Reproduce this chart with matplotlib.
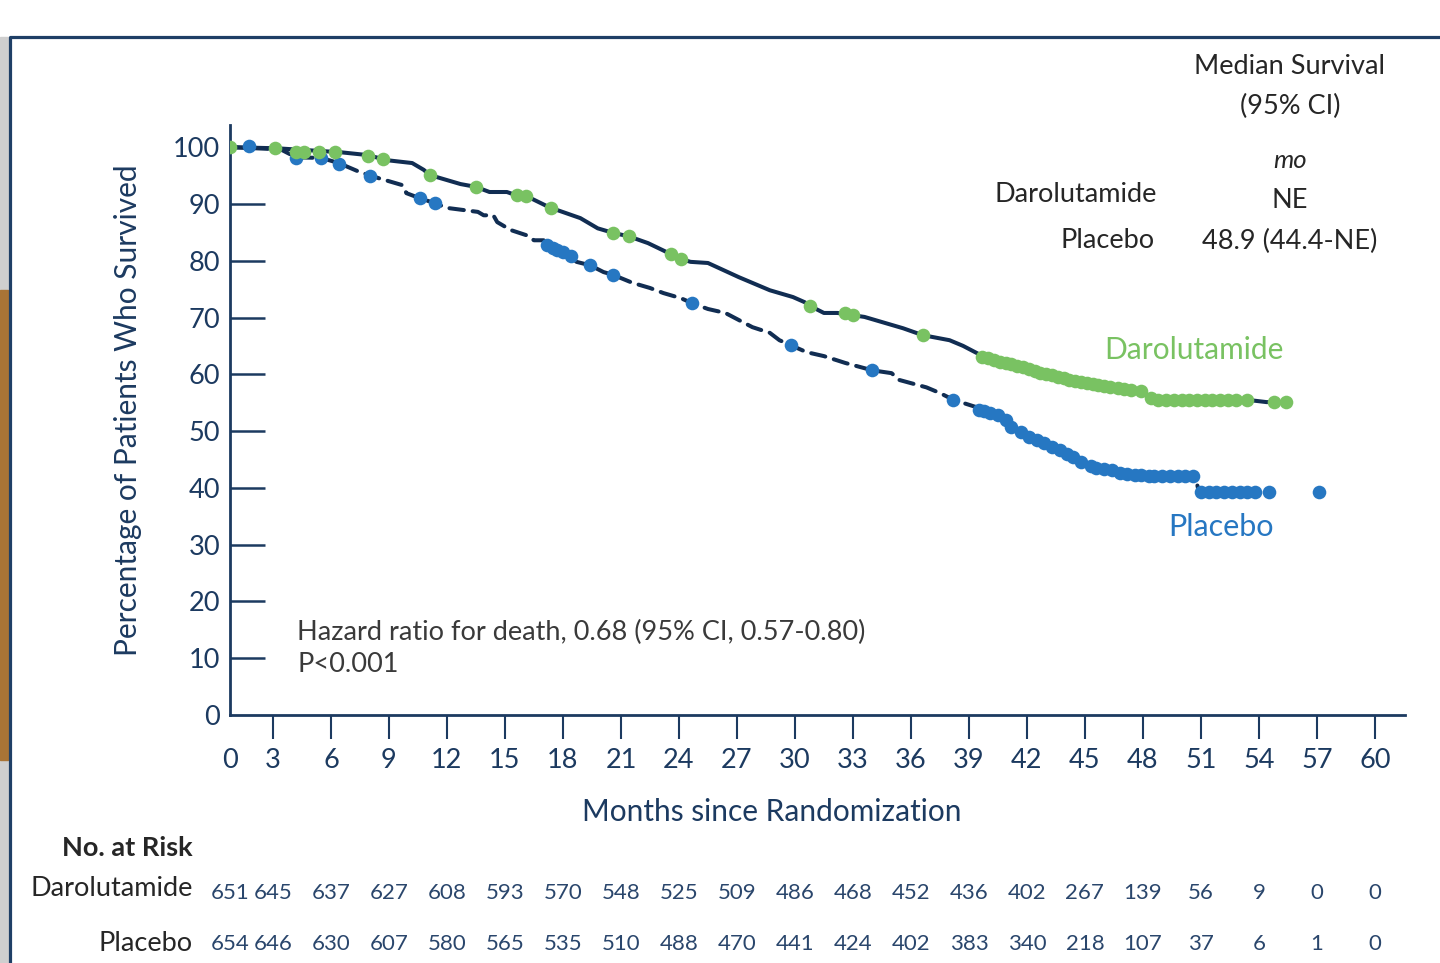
import numpy as np
import matplotlib
matplotlib.use('Agg')
import matplotlib.pyplot as plt
from matplotlib.patches import Rectangle
from matplotlib.lines import Line2D
from matplotlib import transforms

plt.rcParams['font.family'] = ['Lato', 'DejaVu Sans']

# Kaplan-Meier curves (months, % surviving)
dar_m = [0, 3.2, 6.5, 7.9, 8.9, 10.2, 10.8, 11.1, 12.7, 13.5, 14.2, 15.1, 15.6, 16.1,
         17.3, 18.9, 19.8, 20.6, 21.4, 22.4, 23.5, 24.1, 24.6, 25.5, 27.1, 28.7, 29.9,
         30.5, 30.8, 31.5, 32.2, 33.0, 33.6, 34.5, 35.6, 36.6, 38.0, 38.7, 39.6, 39.7,
         42.1, 44.5, 46.3, 48.0, 48.4, 49.3, 53.4, 54.4, 55.3]
dar_p = [100.0, 99.8, 99.1, 98.6, 97.7, 97.2, 96.0, 95.1, 93.5, 93.0, 92.1, 92.1, 91.5, 91.4,
         89.4, 87.5, 85.7, 84.9, 84.3, 83.1, 81.3, 80.3, 79.8, 79.6, 77.1, 74.8, 73.6,
         72.7, 72.0, 70.8, 70.8, 70.4, 70.1, 69.2, 68.1, 66.9, 66.0, 65.0, 63.4, 63.0,
         60.9, 58.9, 57.8, 56.9, 55.8, 55.5, 55.5, 55.1, 55.1]

pla_m = [0, 3.4, 4.2, 5.5, 6.4, 7.5, 8.5, 9.7, 9.9, 10.6, 11.4, 12.0, 13.6, 13.9, 14.4,
         14.6, 15.3, 16.1, 16.5, 17.0, 17.2, 18.4, 18.7, 19.4, 20.1, 20.6, 21.6, 22.5,
         23.2, 24.1, 24.7, 25.5, 26.4, 27.8, 28.7, 29.2, 29.8, 30.6, 31.5, 32.6, 34.0,
         35.0, 35.4, 36.8, 37.5, 38.2, 39.4, 39.5, 40.5, 41.2, 42.1, 43.3, 44.4, 45.6,
         46.8, 47.9, 50.7, 50.9, 53.8]
pla_p = [100.0, 99.6, 98.2, 98.1, 97.2, 95.6, 94.5, 93.3, 91.9, 91.0, 90.1, 89.3, 88.6, 88.0, 88.0,
         86.8, 85.4, 84.5, 83.6, 83.6, 82.7, 80.8, 79.8, 79.2, 78.0, 77.5, 76.1, 75.2,
         74.3, 73.4, 72.5, 71.5, 70.8, 68.3, 67.3, 66.0, 65.1, 63.9, 63.2, 62.0, 60.7,
         60.2, 59.0, 57.7, 56.7, 55.5, 54.2, 53.7, 52.8, 50.7, 48.9, 47.2, 45.4, 43.5,
         42.6, 42.3, 42.1, 39.3, 39.3]

# censoring marks
dar_cens_m = [0, 3.1, 4.2, 4.6, 5.4, 6.2, 7.9, 8.7, 11.1, 13.5, 15.6, 16.1, 17.4, 20.6, 21.4,
              23.6, 24.1, 30.8, 32.6, 33.0, 36.6, 39.7, 40.0, 40.3, 40.6, 40.9, 41.2, 41.5,
              41.8, 42.1, 42.4, 42.7, 43.0, 43.3, 43.6, 43.9, 44.2, 44.5, 44.8, 45.1, 45.4,
              45.7, 46.0, 46.3, 46.7, 47.0, 47.4, 47.9, 48.4, 48.8, 49.2, 49.6, 50.0, 50.4,
              50.8, 51.2, 51.6, 52.0, 52.4, 52.8, 53.4, 54.8, 55.4]
dar_cens_p = [100.1, 99.8, 99.1, 99.1, 99.1, 99.1, 98.4, 97.9, 95.1, 93.0, 91.5, 91.4, 89.2, 84.9, 84.3,
              81.2, 80.3, 72.0, 70.8, 70.4, 66.9, 63.0, 62.8, 62.5, 62.2, 62.0, 61.8, 61.5,
              61.2, 60.9, 60.6, 60.3, 60.0, 59.8, 59.5, 59.3, 59.0, 58.9, 58.7, 58.5, 58.3,
              58.1, 58.0, 57.8, 57.6, 57.4, 57.2, 57.0, 55.8, 55.5, 55.5, 55.5, 55.5, 55.5,
              55.5, 55.5, 55.5, 55.5, 55.5, 55.5, 55.5, 55.1, 55.1]

pla_cens_m = [1.3, 4.2, 5.5, 6.4, 8.0, 10.6, 11.4, 17.2, 17.5, 17.7, 18.0, 18.4, 19.4, 20.6,
              24.7, 29.8, 34.0, 38.2, 39.5, 39.8, 40.1, 40.5, 40.9, 41.2, 41.7, 42.1, 42.5,
              42.9, 43.3, 43.7, 44.1, 44.4, 44.8, 45.3, 45.6, 46.0, 46.4, 46.8, 47.2, 47.6,
              47.9, 48.3, 48.6, 49.0, 49.4, 49.8, 50.2, 50.6, 51.0, 51.4, 51.8, 52.2, 52.6,
              53.0, 53.4, 53.8, 54.5, 57.1]
pla_cens_p = [100.2, 98.1, 98.1, 97.0, 94.9, 91.0, 90.1, 82.7, 82.2, 81.9, 81.5, 80.8, 79.2, 77.5,
              72.5, 65.1, 60.7, 55.5, 53.7, 53.5, 53.2, 52.8, 51.9, 50.7, 49.8, 48.9, 48.4,
              47.9, 47.2, 46.7, 46.0, 45.4, 44.5, 43.8, 43.5, 43.3, 43.1, 42.6, 42.4, 42.3,
              42.3, 42.1, 42.1, 42.1, 42.1, 42.1, 42.1, 42.1, 39.3, 39.3, 39.3, 39.3, 39.3,
              39.3, 39.3, 39.3, 39.3, 39.3]

# numbers at risk
risk_months = list(range(0, 61, 3))
dar_risk = [651, 645, 637, 627, 608, 593, 570, 548, 525, 509, 486, 468, 452, 436, 402, 267, 139, 56, 9, 0, 0]
pla_risk = [654, 646, 630, 607, 580, 565, 535, 510, 488, 470, 441, 424, 402, 383, 340, 218, 107, 37, 6, 1, 0]

navy = '#112d52'
axis_col = '#1c3a60'
green = '#79c262'
blue = '#2677c2'
dark = '#262626'

fig = plt.figure(figsize=(14.4, 9.63), dpi=100)

# page frame, shadow and side strip
fig.patches.append(Rectangle((0, 0), 0.0058, 0.9616, transform=fig.transFigure,
                             color='#cfcfcf', zorder=0))
fig.patches.append(Rectangle((0, 1 - 760 / 963), 0.0058, (760 - 290) / 963,
                             transform=fig.transFigure, color='#a97436', zorder=0))
fig.lines.append(Line2D([0.0066, 0.0066, 1.0], [0, 0.9616, 0.9616], transform=fig.transFigure,
                        color='#1f3f66', lw=2.3))

ax = fig.add_axes([230 / 1440, 1 - 715 / 963, (1405 - 230) / 1440, (715 - 125) / 963])


# first 3 months are drawn narrower than the rest of the axis
def fwd(m):
    m = np.asarray(m, float)
    return np.where(m < 3, m * 43 / 58, m - 3 + 129 / 58)


def inv(u):
    u = np.asarray(u, float)
    return np.where(u < 129 / 58, u * 58 / 43, u + 3 - 129 / 58)


ax.set_xscale('function', functions=(fwd, inv))

ax.plot(pla_m, pla_p, color=navy, lw=2.9, dashes=(3.6, 2.2), dash_capstyle='round', zorder=2)
ax.plot(dar_m, dar_p, color=navy, lw=2.9, solid_capstyle='round', zorder=3)
ax.plot(pla_cens_m, pla_cens_p, 'o', color=blue, ms=9.8, mec='none', zorder=4)
ax.plot(dar_cens_m, dar_cens_p, 'o', color=green, ms=9.8, mec='none', zorder=5)

ax.set_xlim(0, 61.56)
ax.set_ylim(0, 103.9)
for s in ['top', 'right']:
    ax.spines[s].set_visible(False)
for s in ['left', 'bottom']:
    ax.spines[s].set_color(axis_col)
    ax.spines[s].set_linewidth(2.0)

ax.set_xticks(risk_months)
ax.set_yticks(range(0, 101, 10))
ax.tick_params(axis='x', direction='out', length=17, width=1.5, color=axis_col, pad=7,
               labelsize=19.5, labelcolor=axis_col)
ax.tick_params(axis='y', direction='in', length=25, width=1.8, color=axis_col, pad=7,
               labelsize=19.5, labelcolor=axis_col)
ax.xaxis.get_major_ticks()[0].tick1line.set_visible(False)
ax.yaxis.get_major_ticks()[0].tick1line.set_visible(False)
ax.yaxis.get_major_ticks()[-1].tick1line.set_visible(False)

fig.text(772 / 1440, 1 - 812 / 963, 'Months since Randomization', ha='center', va='center',
         fontsize=21.5, color=axis_col)
fig.text(128 / 1440, 1 - 410 / 963, 'Percentage of Patients Who Survived', ha='center',
         va='center', rotation=90, fontsize=21.5, color=axis_col)

fig.text(297 / 1440, 1 - 632 / 963, 'Hazard ratio for death, 0.68 (95% CI, 0.57-0.80)',
         ha='left', va='center', fontsize=19.5, color='#3a3a3a')
fig.text(297 / 1440, 1 - 664 / 963, 'P<0.001', ha='left', va='center', fontsize=19.5,
         color='#3a3a3a')

fig.text(1104 / 1440, 1 - 350 / 963, 'Darolutamide', ha='left', va='center', fontsize=21.5, color=green)
fig.text(1168 / 1440, 1 - 527 / 963, 'Placebo', ha='left', va='center', fontsize=22, color=blue)

# median survival table
cx = 1290 / 1440
fig.text(cx, 1 - 66 / 963, 'Median Survival', ha='center', va='center', fontsize=19.5, color=dark)
fig.text(cx, 1 - 106 / 963, '(95% CI)', ha='center', va='center', fontsize=19.5, color=dark)
fig.text(cx, 1 - 160 / 963, 'mo', ha='center', va='center', fontsize=18.5, color=dark, style='italic')
fig.text(1157 / 1440, 1 - 194 / 963, 'Darolutamide', ha='right', va='center', fontsize=19.5, color=dark)
fig.text(cx, 1 - 200 / 963, 'NE', ha='center', va='center', fontsize=19.5, color=dark)
fig.text(1155 / 1440, 1 - 241 / 963, 'Placebo', ha='right', va='center', fontsize=19.5, color=dark)
fig.text(cx, 1 - 241 / 963, '48.9 (44.4-NE)', ha='center', va='center', fontsize=19.5, color=dark)

# number at risk table
fig.text(193 / 1440, 1 - 848 / 963, 'No. at Risk', ha='right', va='center', fontsize=19.5,
         color=dark, fontweight='bold')
fig.text(193 / 1440, 1 - 888 / 963, 'Darolutamide', ha='right', va='center', fontsize=19.5, color=dark)
fig.text(193 / 1440, 1 - 943 / 963, 'Placebo', ha='right', va='center', fontsize=19.5, color=dark)
tr = transforms.blended_transform_factory(ax.transData, fig.transFigure)
for m, d, p in zip(risk_months, dar_risk, pla_risk):
    ax.text(m, 1 - 893 / 963, str(d), transform=tr, ha='center', va='center', fontsize=16,
            color='#2a466c', clip_on=False)
    ax.text(m, 1 - 944 / 963, str(p), transform=tr, ha='center', va='center', fontsize=16,
            color='#2a466c', clip_on=False)

fig.savefig('out.png', dpi=100)
